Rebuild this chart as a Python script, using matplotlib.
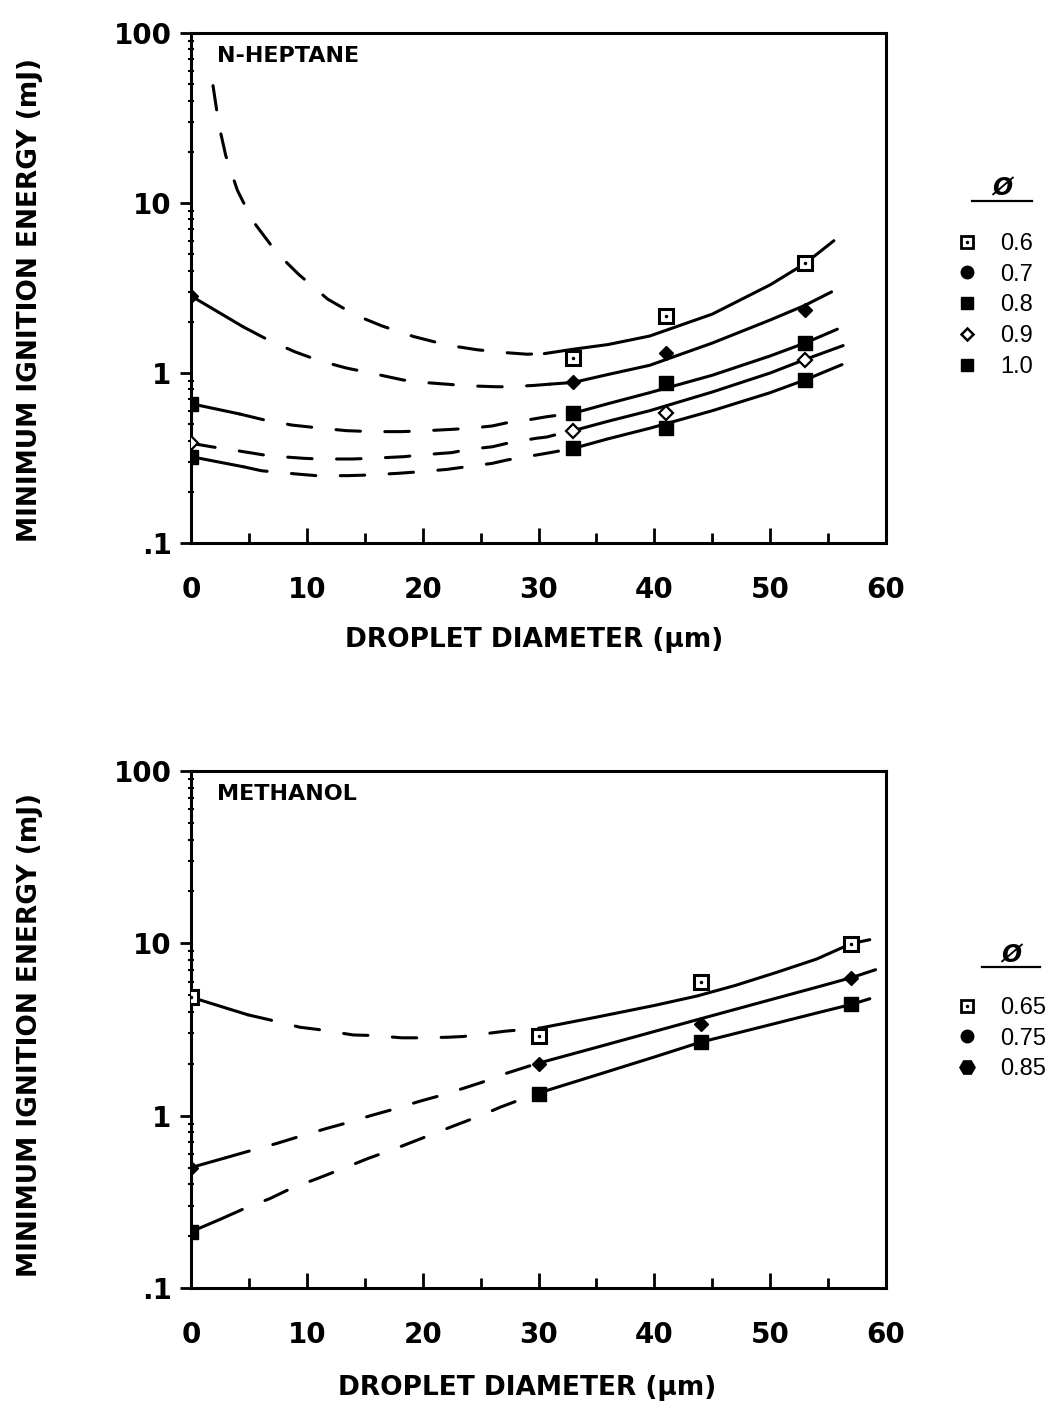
import numpy as np
import matplotlib.pyplot as plt
from matplotlib.lines import Line2D
from matplotlib.legend_handler import HandlerTuple

# ---- N-heptane: measured points ----
hep_x = [0, 33, 41, 53]
hep_x06 = [33, 41, 53]
hep_06 = [1.22, 2.17, 4.42]
hep_07 = [2.84, 0.88, 1.31, 2.35]
hep_08 = [0.66, 0.58, 0.87, 1.50]
hep_09 = [0.386, 0.458, 0.58, 1.20]
hep_10 = [0.322, 0.36, 0.473, 0.91]

# ---- N-heptane: fitted curves ----
c06_x = [1.9, 2.25, 2.5, 3.0, 4.0, 5.3, 7.4, 9.3, 11.8, 14.2, 16.5, 19.2, 22.1, 24.7,
         27.0, 29.0, 30.5, 33.0, 36.0, 39.6, 45.0, 50.0, 53.0, 55.5]
c06_y = [49, 34, 27, 19, 11.9, 7.9, 5.1, 3.8, 2.72, 2.19, 1.89, 1.64, 1.46, 1.37,
         1.32, 1.29, 1.30, 1.38, 1.47, 1.65, 2.22, 3.3, 4.4, 6.0]
c07_x = [0, 4.5, 6.7, 9.0, 11.1, 13.4, 15.5, 18.3, 20.1, 22.5, 24.1, 26.4, 27.5, 29.6,
         31, 33, 36, 39.6, 45, 50, 53, 55.3]
c07_y = [2.84, 1.87, 1.56, 1.33, 1.18, 1.07, 1.0, 0.91, 0.88, 0.855, 0.84, 0.83, 0.83, 0.845,
         0.86, 0.88, 0.98, 1.11, 1.5, 2.05, 2.5, 3.0]
c08_x = [0, 4.2, 6.1, 8.7, 11.3, 13.4, 15.6, 18.2, 20.1, 22.5, 24.1, 26, 27.3, 29.4,
         30.7, 33, 36, 39.6, 45, 50, 53, 55.8]
c08_y = [0.66, 0.574, 0.534, 0.494, 0.473, 0.458, 0.452, 0.452, 0.457, 0.466, 0.473, 0.488, 0.51, 0.534,
         0.553, 0.58, 0.66, 0.766, 0.97, 1.26, 1.50, 1.81]
c09_x = [0, 2.1, 3.1, 5.4, 6.7, 9.7, 11.1, 13.9, 15.6, 18.4, 19.9, 22.5, 24, 26, 27.3,
         29.8, 30.7, 32.3, 33, 36, 39.6, 45, 50, 53, 56.3]
c09_y = [0.386, 0.365, 0.357, 0.337, 0.326, 0.315, 0.312, 0.312, 0.315, 0.322, 0.33, 0.34, 0.356, 0.368, 0.386,
         0.413, 0.42, 0.448, 0.458, 0.52, 0.60, 0.773, 1.0, 1.20, 1.45]
c10_x = [0, 4.5, 6.1, 9.0, 10.8, 13.5, 15.2, 17.9, 19.9, 22.1, 23.8, 26, 27.3, 29.9,
         31, 33, 36, 39.6, 45, 50, 53, 56.2]
c10_y = [0.322, 0.281, 0.266, 0.255, 0.249, 0.249, 0.251, 0.257, 0.263, 0.271, 0.281, 0.294, 0.308, 0.33,
         0.34, 0.36, 0.41, 0.473, 0.60, 0.766, 0.91, 1.12]

# ---- Methanol: measured points ----
met_x = [0, 30, 44, 57]
met_065 = [4.87, 2.88, 5.96, 9.96]
met_075 = [0.50, 2.0, 3.41, 6.32]
met_085 = [0.212, 1.34, 2.67, 4.42]

# ---- Methanol: fitted curves ----
m065_x = [0, 4.9, 6.7, 9.4, 11.0, 14.0, 15.6, 18.2, 19.6, 22.1, 23.5, 26.1, 27.1, 30.1,
          35, 40, 43.7, 47, 50.6, 54, 57, 58.6]
m065_y = [4.87, 3.85, 3.61, 3.26, 3.16, 2.94, 2.92, 2.83, 2.83, 2.85, 2.88, 3.03, 3.09, 3.22,
          3.73, 4.36, 4.95, 5.7, 6.8, 8.1, 9.96, 10.5]
m075_x = [0, 3, 4.9, 7.4, 9.1, 11.7, 13.6, 15.5, 17.5, 19.7, 21.2, 23.5, 25.1, 27.1,
          29.8, 35, 40, 44, 50, 54, 57, 59.1]
m075_y = [0.50, 0.57, 0.62, 0.69, 0.748, 0.843, 0.914, 1.0, 1.09, 1.21, 1.29, 1.44, 1.56, 1.75,
          2.0, 2.49, 3.08, 3.65, 4.7, 5.56, 6.32, 7.03]
m085_x = [0, 2.5, 4.5, 6.8, 8.7, 11, 13, 15.3, 17.9, 20.5, 22.5, 25, 26.7, 29,
          29.8, 35, 40, 44, 50, 54, 57, 58.6]
m085_y = [0.212, 0.25, 0.287, 0.33, 0.38, 0.434, 0.49, 0.565, 0.654, 0.765, 0.863, 1.0, 1.12, 1.28,
          1.34, 1.72, 2.19, 2.67, 3.37, 3.94, 4.42, 4.77]

hep_labels = ['0.6', '0.7', '0.8', '0.9', '1.0']
met_labels = ['0.65', '0.75', '0.85']

W, H = 1052, 1408
fig = plt.figure(figsize=(W / 100, H / 100), dpi=100)
bold = dict(fontweight='bold', family='DejaVu Sans')
LW = 2.2
DASH = (0, (8, 8))


def curve(ax, x, y, lo, hi):
    x = np.array(x)
    y = np.array(y)
    head = x <= lo
    mid = (x >= lo) & (x <= hi)
    tail = x >= hi
    if head.sum() > 1:
        ax.plot(x[head], y[head], color='k', lw=LW, solid_capstyle='round')
    ax.plot(x[mid], y[mid], color='k', lw=LW, linestyle=DASH, dash_capstyle='round')
    ax.plot(x[tail], y[tail], color='k', lw=LW, solid_capstyle='round')


def open_sq(ax, x, y):
    ax.plot(x, y, 's', ms=10, mfc='white', mec='k', mew=2.2, zorder=5)
    ax.plot(x, y, '.', ms=3, color='k', zorder=6)


def setup(ax):
    ax.set_yscale('log')
    ax.set_ylim(0.1, 100)
    ax.set_xlim(0, 60)
    ax.set_yticks([0.1, 1, 10, 100])
    ax.set_yticklabels(['.1', '1', '10', '100'], fontsize=20, **bold)
    ax.set_xticks(range(0, 61, 10))
    ax.set_xticklabels([str(v) for v in range(0, 61, 10)], fontsize=20, **bold)
    ax.set_xticks(range(5, 60, 10), minor=True)
    ax.tick_params(axis='y', which='major', direction='out', length=8, width=2, pad=6)
    ax.tick_params(axis='y', which='minor', direction='inout', length=5, width=1.5)
    ax.tick_params(axis='x', which='major', direction='in', length=11, width=2, pad=24)
    ax.tick_params(axis='x', which='minor', direction='in', length=7, width=2)
    for s in ax.spines.values():
        s.set_linewidth(2.2)
    ax.yaxis.set_minor_formatter(plt.NullFormatter())


# ---------------- top panel ----------------
ax1 = fig.add_axes([191 / W, 1 - 543 / H, 695 / W, 510 / H])
setup(ax1)
curve(ax1, c06_x, c06_y, 1.9, 30.5)
curve(ax1, c07_x, c07_y, 4.5, 31)
curve(ax1, c08_x, c08_y, 4.2, 33)
curve(ax1, c09_x, c09_y, 0, 33)
curve(ax1, c10_x, c10_y, 4.5, 33)
open_sq(ax1, hep_x06, hep_06)
ax1.plot(hep_x, hep_07, 'D', ms=7, color='k', zorder=5)
ax1.plot(hep_x, hep_08, 's', ms=10, color='k', zorder=5)
ax1.plot(hep_x, hep_09, 'D', ms=7, mfc='white', mec='k', mew=1.6, zorder=5)
ax1.plot(hep_x, hep_10, 's', ms=10, color='k', zorder=5)
ax1.text(0.038, 0.955, 'N-HEPTANE', transform=ax1.transAxes, fontsize=16,
         ha='left', va='center', **bold)

# ---------------- bottom panel ----------------
ax2 = fig.add_axes([191 / W, 1 - 1288 / H, 695 / W, 517 / H])
setup(ax2)
curve(ax2, m065_x, m065_y, 4.9, 30.1)
curve(ax2, m075_x, m075_y, 3, 29.8)
curve(ax2, m085_x, m085_y, 2.5, 29.8)
open_sq(ax2, met_x, met_065)
ax2.plot(met_x, met_075, 'D', ms=7, color='k', zorder=5)
ax2.plot(met_x, met_085, 's', ms=10, color='k', zorder=5)
ax2.text(0.038, 0.955, 'METHANOL', transform=ax2.transAxes, fontsize=16,
         ha='left', va='center', **bold)

# axis labels
for yc in (300, 1035):
    fig.text(30 / W, 1 - yc / H, 'MINIMUM IGNITION ENERGY (mJ)', rotation=90,
             ha='center', va='center', fontsize=19, **bold)
fig.text(534 / W, 1 - 640 / H, 'DROPLET DIAMETER (\u00b5m)', ha='center', va='center',
         fontsize=19, **bold)
fig.text(527 / W, 1 - 1388 / H, 'DROPLET DIAMETER (\u00b5m)', ha='center', va='center',
         fontsize=19, **bold)

# legends
sq_open = Line2D([], [], marker='s', ms=9, mfc='white', mec='k', mew=2, ls='none')
dot = Line2D([], [], marker='.', ms=3, color='k', ls='none')
circ = Line2D([], [], marker='o', ms=9, color='k', ls='none')
sq = Line2D([], [], marker='s', ms=9, color='k', ls='none')
dia_open = Line2D([], [], marker='D', ms=6, mfc='white', mec='k', mew=1.8, ls='none')
hexa = Line2D([], [], marker='H', ms=11, color='k', ls='none')

legkw = dict(handler_map={tuple: HandlerTuple(ndivide=1)}, loc='upper left',
             frameon=False, handlelength=1.0, handletextpad=0.9,
             labelspacing=0.37, borderpad=0, borderaxespad=0,
             prop={'family': 'Liberation Sans', 'size': 17})
fig.legend([(sq_open, dot), circ, sq, dia_open, sq], hep_labels,
           bbox_to_anchor=(955 / W, 1 - 233 / H), **legkw)
fig.legend([(sq_open, dot), circ, hexa], met_labels,
           bbox_to_anchor=(955 / W, 1 - 997 / H), **legkw)

for yt, yl, x0, x1 in ((188, 201, 972, 1032), (955, 967, 982, 1040)):
    fig.text((x0 + x1) / 2 / W, 1 - yt / H, '\u00d8', ha='center', va='center',
             fontsize=17, fontweight='bold', style='italic', family='DejaVu Sans')
    fig.add_artist(Line2D([x0 / W, x1 / W], [1 - yl / H, 1 - yl / H],
                          transform=fig.transFigure, color='k', lw=1.6))

fig.savefig('out.png', dpi=100)
